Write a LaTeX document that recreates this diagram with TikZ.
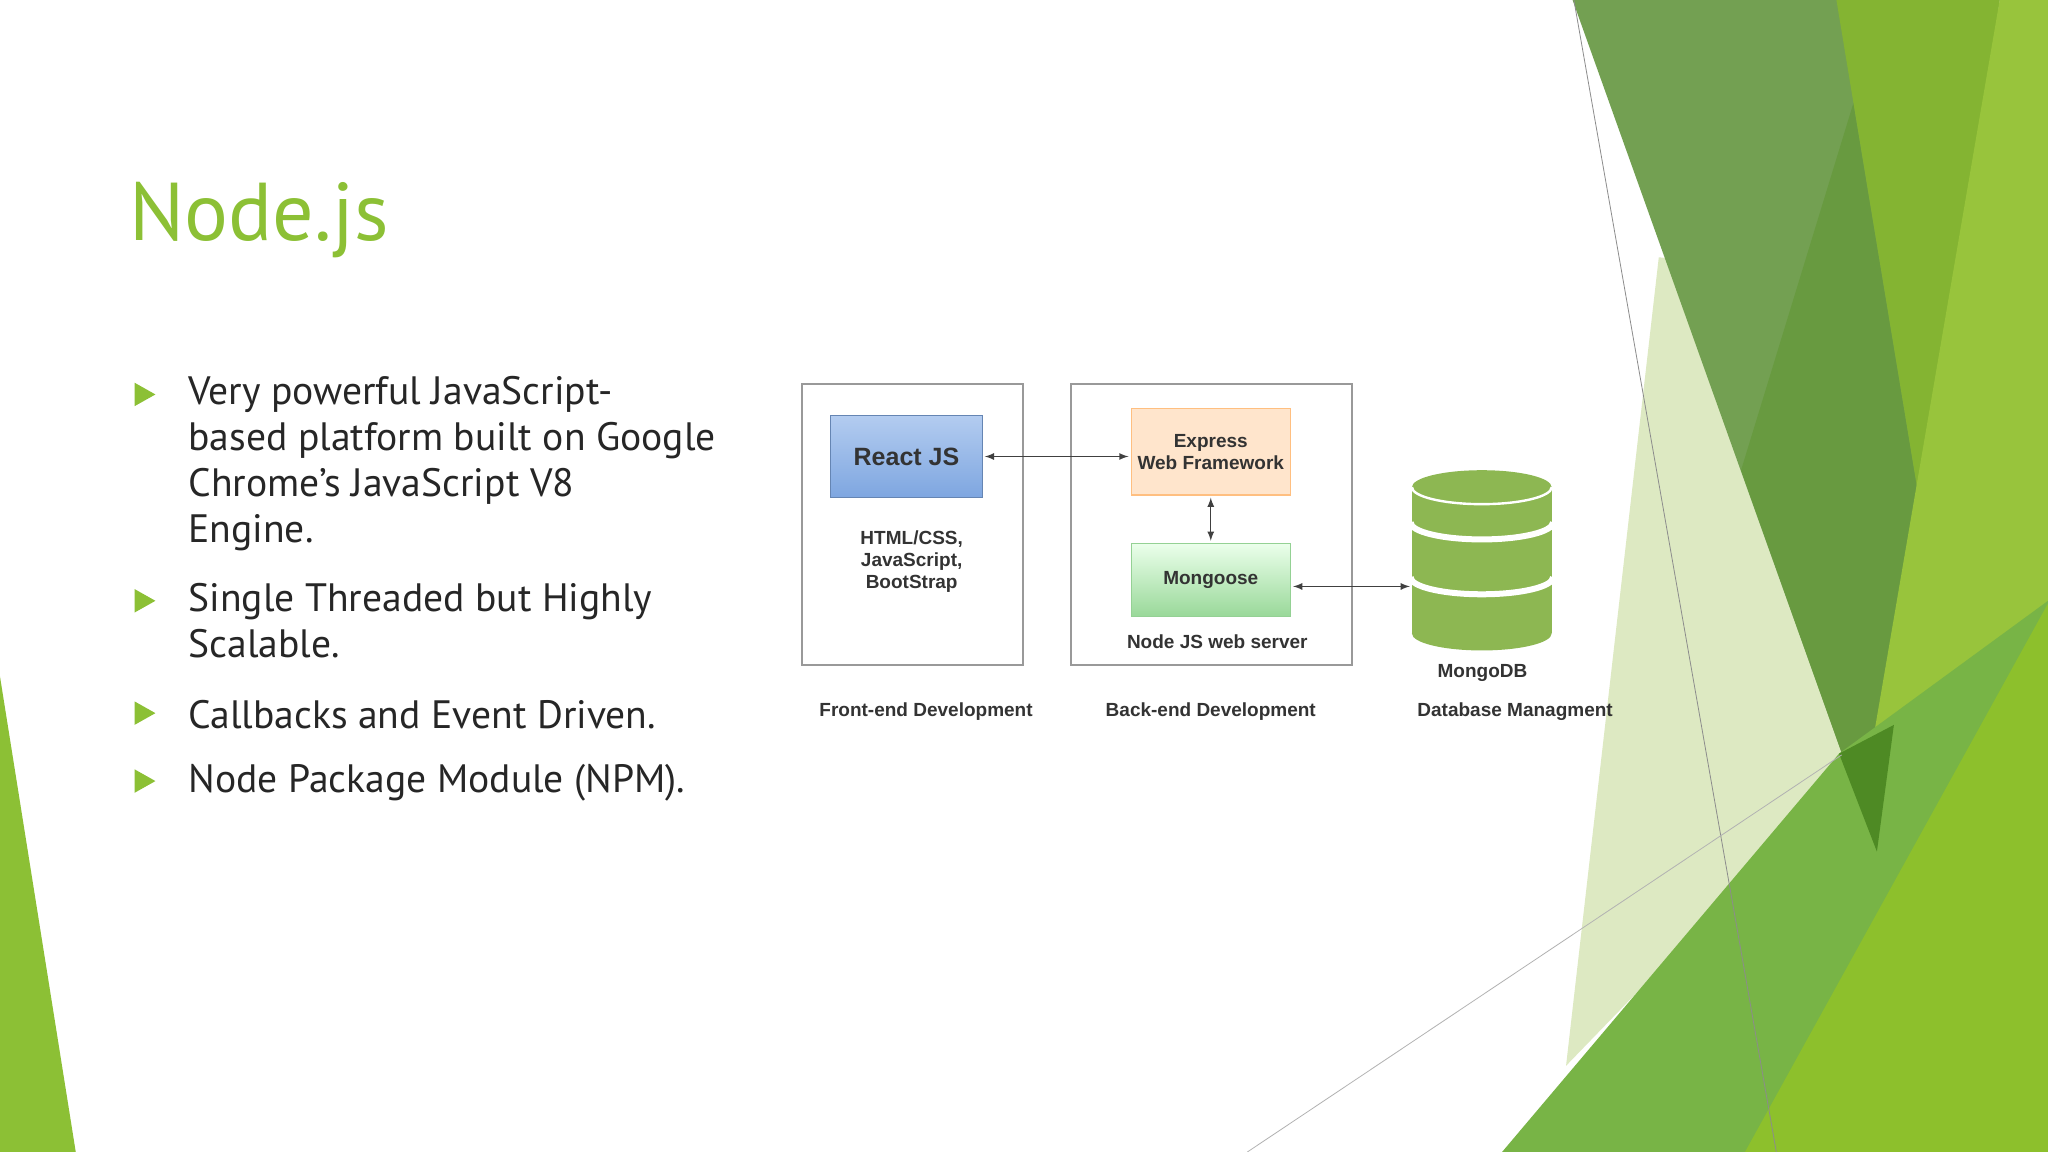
\documentclass[tikz,border=0pt]{standalone}
\usepackage{fontspec}
\setmainfont{PT Sans}
\newfontfamily\arialf{Liberation Sans}
\begin{document}
\begin{tikzpicture}[x=0.653pt,y=-0.653pt,
  body/.style={anchor=west,font=\fontsize{19.8}{23}\selectfont,text=black!85,inner sep=0pt,align=left},
  bul/.style={fill=titlegreen,draw=none},
  frame/.style={draw=black!40,line width=0.8pt},
  lab/.style={font=\arialf\bfseries\fontsize{9.5}{11}\selectfont,text=black!80,align=center,inner sep=0pt},
  arr/.style={<->,>=latex,black!75,line width=0.6pt,shorten <=1pt,shorten >=1pt}]
\definecolor{titlegreen}{HTML}{8CC035}
\definecolor{gA}{HTML}{73A052}
\definecolor{gB}{HTML}{689A40}
\definecolor{gC}{HTML}{84B432}
\definecolor{gD}{HTML}{98C43C}
\definecolor{gE}{HTML}{78B446}
\definecolor{gF}{HTML}{8DC02C}
\definecolor{gP}{HTML}{DDE9C2}
\definecolor{gDark}{HTML}{4E8A24}
\definecolor{cyl}{HTML}{8DB752}
\definecolor{rtop}{HTML}{B3CCF0}
\definecolor{rbot}{HTML}{7EA6E0}
\useasboundingbox (0,0) rectangle (1568,882);
\fill[white] (0,0) rectangle (1568,882);
% decoration right
\fill[gP] (1199,816) -- (1270,197) -- (1300,200) -- (1430,577) -- cycle;
\fill[gA] (1204,0) -- (1531,0) -- (1437,652) -- cycle;
\fill[gB] (1419,79) -- (1473,405) -- (1437,652) -- (1333,360) -- cycle;
\fill[gC] (1406,0) -- (1531,0) -- (1473,405) -- cycle;
\fill[gD] (1531,0) -- (1568,0) -- (1568,882) -- (1380,882) -- cycle;
\fill[gE] (1150,882) -- (1408,577) -- (1568,460) -- (1568,882) -- cycle;
\fill[gDark] (1408,577) -- (1450,555) -- (1437,652) -- cycle;
\fill[gF] (1336,882) -- (1568,462) -- (1568,882) -- cycle;
\draw[black!45,line width=0.4pt] (1205,0) -- (1360,882);
\draw[black!30,line width=0.4pt] (955,882) -- (1410,578);
% left decoration
\fill[titlegreen] (0,518) -- (58,882) -- (0,882) -- cycle;
% title
\node[anchor=base west,inner sep=0pt,text=titlegreen,font=\fontsize{41}{48}\selectfont] (title) at (99,184) {Node.js};
% bullets
\foreach \y in {302,460,546,598}{
  \fill[bul] (103,\y-9) -- (119,\y) -- (103,\y+9) -- cycle;}
\node[body,anchor=north west] (t1) at (144,288) {Very powerful JavaScript-\\based platform built on Google\\Chrome's JavaScript V8\\Engine.};
\node[body,anchor=north west] (t2) at (144,446) {Single Threaded but Highly\\Scalable.};
\node[body] (t3) at (144,547) {Callbacks and Event Driven.};
\node[body] (t4) at (144,599) {Node Package Module (NPM).};
% diagram
\draw[frame] (614,294) rectangle (783,509);
\draw[frame] (820,294) rectangle (1035,509);
\node[draw=rbot!80!black,line width=0.6pt,top color=rtop,bottom color=rbot,minimum width=116*0.653pt,minimum height=63*0.653pt,inner sep=0pt,font=\arialf\bfseries\fontsize{12.5}{14}\selectfont,text=black!80] (react) at (694,349.5) {React JS};
\node[draw=orange!50,line width=0.6pt,fill=orange!20!white,minimum width=122*0.653pt,minimum height=66*0.653pt,inner sep=0pt,lab] (express) at (927,346) {Express\\Web Framework};
\node[draw=green!40!gray!60,line width=0.6pt,top color=green!8!white,bottom color=green!45!gray!55,minimum width=122*0.653pt,minimum height=56*0.653pt,inner sep=0pt,lab] (mongoose) at (927,444) {Mongoose};
\node[lab] (html) at (698,430) {HTML/CSS,\\JavaScript,\\BootStrap};
\node[lab] (nodeweb) at (932,491) {Node JS web server};
% cylinder
\fill[cyl] (1081,373) rectangle (1188,485);
\fill[cyl] (1134.5,485) ellipse[x radius=53.5,y radius=13];
\fill[cyl] (1134.5,373) ellipse[x radius=53.5,y radius=13];
\draw[white,line width=1.2pt] (1081,373) arc[start angle=180,end angle=0,x radius=53.5,y radius=13];
\draw[white,line width=3pt] (1080,400) arc[start angle=180,end angle=0,x radius=54.5,y radius=13];
\draw[white,line width=3pt] (1080,442) arc[start angle=180,end angle=0,x radius=54.5,y radius=13];
\coordinate (db) at (1081,449);
\node[lab] (mongodb) at (1135,515) {MongoDB};
\node[lab] (fe) at (709,545) {Front-end Development};
\node[lab] (be) at (927,545) {Back-end Development};
\node[lab] (dbm) at (1160,545) {Database Managment};
\draw[arr] (react.east) -- (express.west |- react.east);
\draw[arr] (express.south) -- (mongoose.north);
\draw[arr] (mongoose.east |- db) -- (db);
\end{tikzpicture}
\end{document}
